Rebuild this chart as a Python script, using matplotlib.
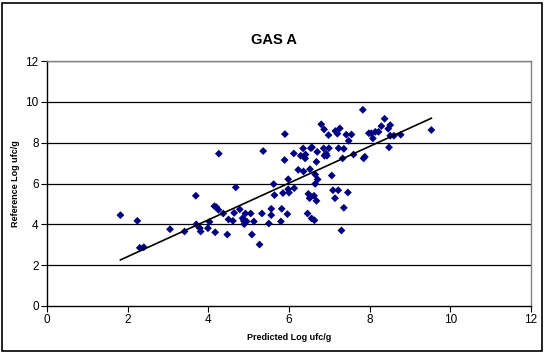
import matplotlib
matplotlib.use("Agg")
import matplotlib.pyplot as plt
import numpy as np

plt.rcParams["font.family"] = ["Liberation Sans", "DejaVu Sans"]

predicted = [1.82, 2.24, 2.30, 2.40, 3.05, 3.41, 3.69, 3.70, 3.79, 3.81, 3.99, 4.03, 4.15, 4.20,
             4.25, 4.17, 4.26, 4.37, 4.47, 4.50, 4.61, 4.64, 4.68, 4.78, 4.85, 4.88, 4.89, 4.92,
             4.95, 5.05, 5.08, 5.13, 5.27, 5.33, 5.36, 5.50, 5.56, 5.56, 5.62, 5.64, 5.80, 5.82,
             5.85, 5.89, 5.90, 5.96, 5.98, 5.98, 6.00,
             6.12, 6.13, 6.23, 6.29, 6.35, 6.36, 6.40, 6.41, 6.46, 6.48, 6.51, 6.52, 6.54, 6.57,
             6.56, 6.62, 6.63, 6.65, 6.65, 6.68, 6.68, 6.70, 6.71, 6.80, 6.87, 6.86, 6.88, 6.92,
             6.94, 6.98, 6.99, 7.06, 7.09, 7.14, 7.15, 7.20, 7.22, 7.23, 7.26, 7.30, 7.33, 7.36,
             7.36, 7.42, 7.46, 7.48, 7.55, 7.60, 7.83, 7.85, 7.88, 7.98, 8.04, 8.08, 8.14, 8.22,
             8.29, 8.37, 8.46, 8.48, 8.51, 8.51, 8.60, 8.77, 9.53]
reference = [4.45, 4.17, 2.85, 2.88, 3.76, 3.65, 5.40, 4.00, 3.81, 3.65, 3.81, 4.12, 4.89, 4.84,
             4.71, 3.61, 7.46, 4.53, 3.50, 4.24, 4.17, 4.56, 5.81, 4.73, 4.30, 4.17, 4.01, 4.53,
             4.14, 4.53, 3.50, 4.14, 3.01, 4.53, 7.59, 4.04, 4.76, 4.45, 5.97, 5.43, 4.14, 4.76,
             5.53, 7.15, 8.42, 4.50, 6.21, 5.72, 5.55,
             7.47, 5.77, 6.67, 7.36, 7.72, 6.59, 7.23, 7.42, 4.53, 5.49, 5.28, 6.70, 7.73, 7.77,
             4.29, 5.40, 4.20, 6.44, 5.98, 7.06, 5.15, 7.55, 6.20, 8.90, 8.65, 7.72, 7.36, 7.46,
             7.36, 8.37, 7.73, 6.39, 5.67, 5.28, 8.57, 8.44, 5.67, 7.73, 8.70, 3.70, 7.23, 7.70,
             4.81, 8.39, 5.56, 8.09, 8.40, 7.42, 9.61, 7.23, 7.31, 8.46, 8.46, 8.21, 8.53, 8.53,
             8.81, 9.17, 8.68, 7.77, 8.86, 8.34, 8.34, 8.39, 8.62]

trend_slope = 0.90
trend_intercept = 0.62

x_ticks = [0, 2, 4, 6, 8, 10, 12]
y_ticks = [0, 2, 4, 6, 8, 10, 12]

W, H = 545, 353
fig = plt.figure(figsize=(W / 100, H / 100), dpi=100)
fig.patch.set_facecolor("white")
# outer chart frame
fig.add_artist(plt.Rectangle((2 / W, 2 / H), (W - 5) / W, (H - 5) / H, transform=fig.transFigure,
                             fill=False, edgecolor="black", linewidth=1.2))

left, right, top, bottom = 47, 531, 61, 306
ax = fig.add_axes([left / W, 1 - bottom / H, (right - left) / W, (bottom - top) / H])
ax.set_xlim(0, 12)
ax.set_ylim(0, 12)
ax.set_xticks(x_ticks)
ax.set_yticks(y_ticks)
ax.tick_params(direction="out", length=4, width=0.8, labelsize=8.5, pad=2, colors="black")

for y in y_ticks[1:]:
    ax.axhline(y, color="black", linewidth=0.9, zorder=1)

for side in ["top", "right"]:
    ax.spines[side].set_color("#808080")
    ax.spines[side].set_linewidth(1.0)
for side in ["left", "bottom"]:
    ax.spines[side].set_color("black")
    ax.spines[side].set_linewidth(1.0)

ax.scatter(predicted, reference, marker="D", s=16, color="#000080", edgecolors="none", zorder=3)

xs = np.array([min(predicted), max(predicted)])
ax.plot(xs, trend_slope * xs + trend_intercept, color="black", linewidth=1.2, zorder=4)

ax.set_xlabel("Predicted Log ufc/g", fontsize=6.5, fontweight="bold", labelpad=5)
ax.set_ylabel("Reference Log ufc/g", fontsize=6.5, fontweight="bold", labelpad=4)
fig.text(274 / W, 1 - 40 / H, "GAS A", ha="center", va="center", fontsize=10.5, fontweight="bold")

fig.savefig("out.png", dpi=100)
